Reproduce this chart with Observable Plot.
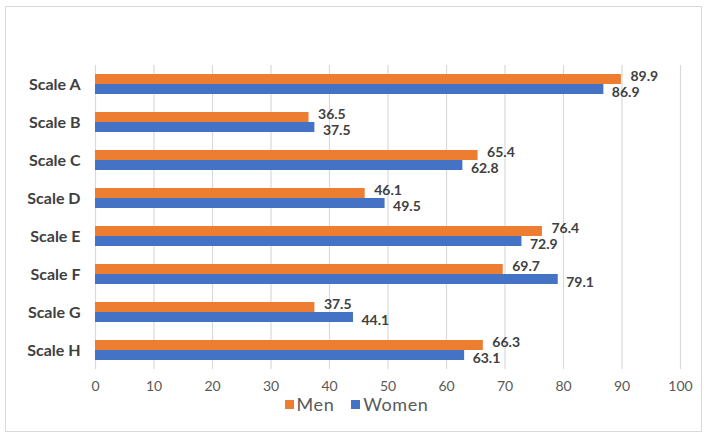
<!DOCTYPE html>
<html>
<head>
<meta charset="utf-8">
<script src="https://cdn.jsdelivr.net/npm/d3@7"></script>
<script src="https://cdn.jsdelivr.net/npm/@observablehq/plot@0.6"></script>
<style>
  body { margin: 0; background: #fff; width: 708px; height: 438px; position: relative; overflow: hidden; font-family: Lato, "Open Sans", sans-serif; }
  #frame { position: absolute; left: 5px; top: 6px; width: 697px; height: 426px; border: 1px solid #d9d9d9; box-sizing: border-box; }
  #chart { position: absolute; left: 0; top: 0; }
  #legend { position: absolute; left: 0; width: 713px; top: 398px; display: flex; justify-content: center; align-items: center; gap: 17px; font-size: 18px; line-height: 13px; letter-spacing: 0.6px; color: #595959; }
  #legend .item { display: flex; align-items: center; gap: 3px; }
  #legend .sw { width: 9px; height: 9px; display: inline-block; }
</style>
</head>
<body>
<div id="frame"></div>
<div id="chart"></div>
<div id="legend"></div>
<script>
const categories = ["Scale A", "Scale B", "Scale C", "Scale D", "Scale E", "Scale F", "Scale G", "Scale H"];
const series = ["Men", "Women"];
const men = [89.9, 36.5, 65.4, 46.1, 76.4, 69.7, 37.5, 66.3];
const women = [86.9, 37.5, 62.8, 49.5, 72.9, 79.1, 44.1, 63.1];
const xTicks = [0, 10, 20, 30, 40, 50, 60, 70, 80, 90, 100];
const colors = ["#ED7D31", "#4472C4"];

const data = categories.flatMap((c, i) => [
  {cat: c, series: "Men", value: men[i]},
  {cat: c, series: "Women", value: women[i]}
]);

const chart = Plot.plot({
  width: 708,
  height: 400,
  marginLeft: 95,
  marginRight: 28,
  marginTop: 63,
  marginBottom: 30,
  style: {fontFamily: "Lato, 'Open Sans', sans-serif", background: "transparent"},
  x: {domain: [0, 100]},
  fy: {domain: categories, padding: 0, label: null},
  y: {domain: series, paddingInner: 0, paddingOuter: 0.9, axis: null},
  color: {domain: series, range: colors},
  marks: [
    Plot.gridX(xTicks, {stroke: "#d9d9d9", strokeOpacity: 1, strokeWidth: 1.2}),
    Plot.barX(data, {x: "value", y: "series", fy: "cat", fill: "series"}),
    Plot.text(data.filter(d => d.series === "Men"), {x: "value", y: "series", fy: "cat", text: d => d.value.toFixed(1), textAnchor: "start", dx: 9, dy: -3, fontSize: 14, fontWeight: "bold", fill: "#404040"}),
    Plot.text(data.filter(d => d.series === "Women"), {x: "value", y: "series", fy: "cat", text: d => d.value.toFixed(1), textAnchor: "start", dx: 8, dy: 3, fontSize: 14, fontWeight: "bold", fill: "#404040"}),
    Plot.axisX({ticks: xTicks, tickSize: 0, tickPadding: 12, fontSize: 14, fill: "#595959", label: null}),
    Plot.axisFy({anchor: "left", tickSize: 0, tickPadding: 15, fontSize: 16, fontWeight: "bold", fill: "#404040", label: null})
  ]
});
document.getElementById("chart").appendChild(chart);

const legend = document.getElementById("legend");
series.forEach((s, i) => {
  const item = document.createElement("div");
  item.className = "item";
  const sw = document.createElement("span");
  sw.className = "sw";
  sw.style.background = colors[i];
  const t = document.createElement("span");
  t.textContent = s;
  item.appendChild(sw);
  item.appendChild(t);
  legend.appendChild(item);
});
</script>
</body>
</html>
